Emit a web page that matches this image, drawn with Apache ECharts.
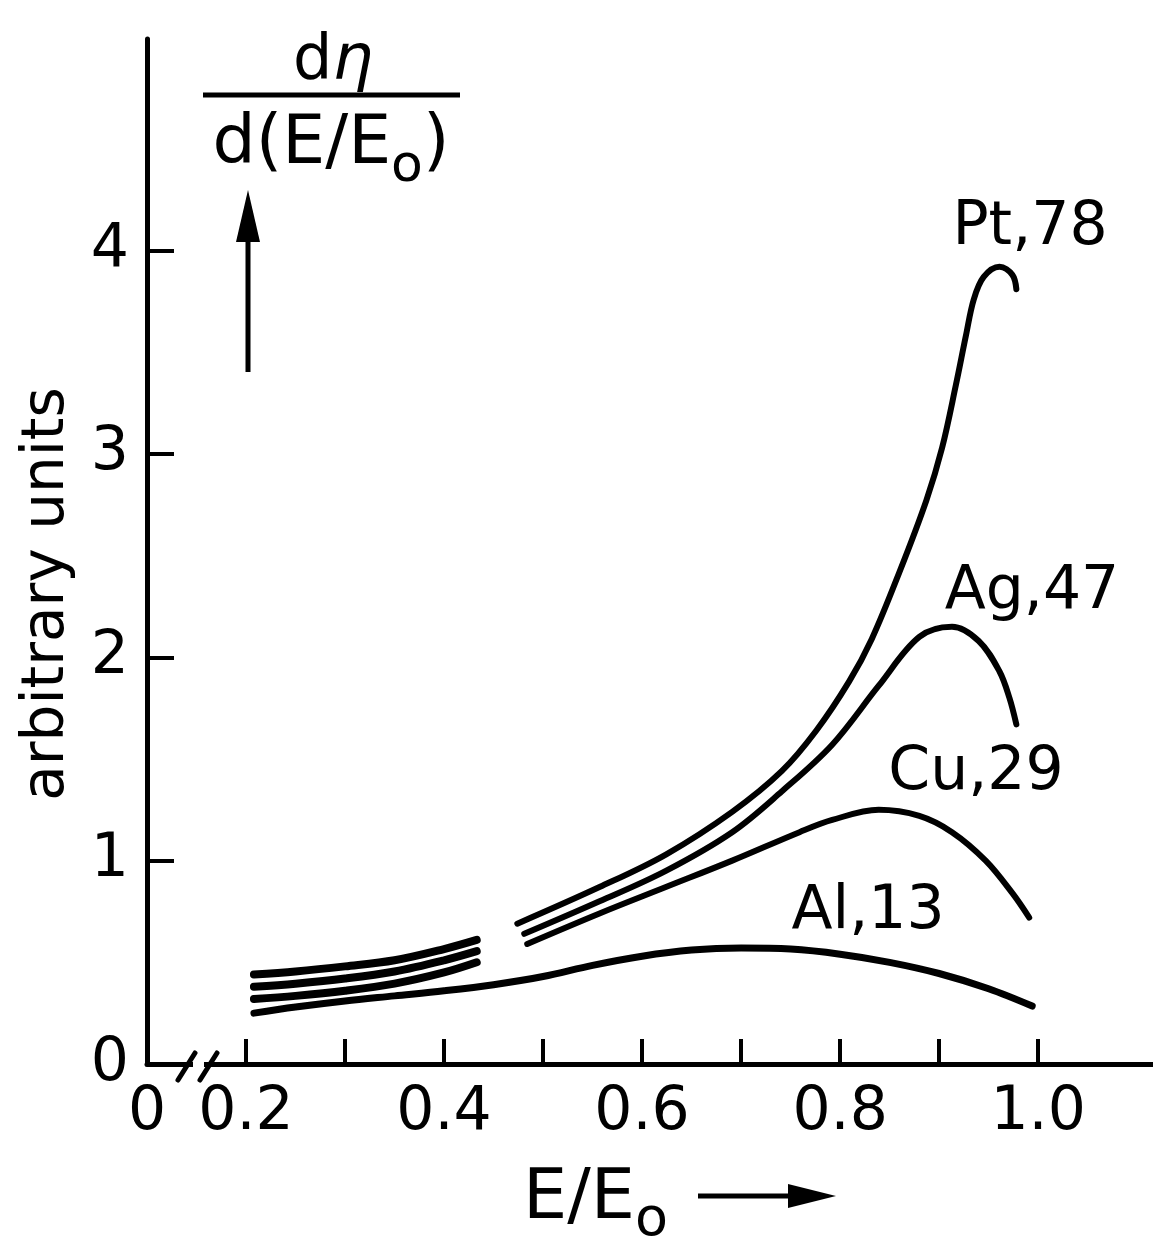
<!DOCTYPE html>
<html>
<head>
<meta charset="utf-8">
<script src="https://cdn.jsdelivr.net/npm/echarts@6/dist/echarts.min.js"></script>
<style>
  html, body { margin: 0; padding: 0; background: #fff; }
  #chart { width: 1153px; height: 1237px; }
</style>
</head>
<body>
<div id="chart"></div>
<script>
// tick values / labels
const xTickValues = [0.2, 0.3, 0.4, 0.5, 0.6, 0.7, 0.8, 0.9, 1.0];
const xLabelValues = [0.1, 0.2, 0.4, 0.6, 0.8, 1.0];
const xLabelTexts = ['0', '0.2', '0.4', '0.6', '0.8', '1.0'];
const yTickValues = [1, 2, 3, 4];
const yLabelValues = [0, 1, 2, 3, 4];
const yLabelTexts = ['0', '1', '2', '3', '4'];

// curves, [E/E0, d eta / d(E/E0)]
// low-energy pieces (before the gap)
const ptLow = [[0.208, 0.44], [0.25, 0.455], [0.30, 0.48], [0.35, 0.51], [0.40, 0.565], [0.433, 0.61]];
const agLow = [[0.208, 0.38], [0.25, 0.395], [0.30, 0.42], [0.35, 0.455], [0.40, 0.51], [0.433, 0.555]];
const cuLow = [[0.208, 0.32], [0.25, 0.335], [0.30, 0.36], [0.35, 0.395], [0.40, 0.45], [0.433, 0.50]];
// high-energy pieces
const ptHigh = [[0.474, 0.69], [0.557, 0.87], [0.624, 1.03], [0.691, 1.24], [0.741, 1.44], [0.776, 1.64],
  [0.809, 1.88], [0.832, 2.09], [0.860, 2.42], [0.887, 2.77], [0.903, 3.03], [0.917, 3.34],
  [0.927, 3.58], [0.935, 3.76], [0.945, 3.87], [0.961, 3.92], [0.974, 3.88], [0.978, 3.81]];
const agHigh = [[0.481, 0.64], [0.557, 0.80], [0.624, 0.95], [0.691, 1.14], [0.741, 1.34], [0.792, 1.57],
  [0.839, 1.86], [0.880, 2.10], [0.913, 2.15], [0.940, 2.08], [0.961, 1.93], [0.971, 1.80], [0.978, 1.67]];
const cuHigh = [[0.484, 0.59], [0.557, 0.74], [0.624, 0.87], [0.691, 1.00], [0.759, 1.14], [0.792, 1.20],
  [0.839, 1.25], [0.880, 1.22], [0.913, 1.14], [0.947, 1.00], [0.974, 0.84], [0.991, 0.72]];
const al = [[0.208, 0.25], [0.25, 0.28], [0.30, 0.31], [0.35, 0.335], [0.40, 0.36], [0.45, 0.39],
  [0.50, 0.43], [0.55, 0.485], [0.60, 0.53], [0.65, 0.56], [0.70, 0.57], [0.75, 0.565],
  [0.80, 0.54], [0.85, 0.50], [0.90, 0.445], [0.95, 0.37], [0.994, 0.285]];

const curveNames = ['Pt,78', 'Ag,47', 'Cu,29', 'Al,13'];

const FONT = "'DejaVu Sans', sans-serif";
const INK = '#000';

const chart = echarts.init(document.getElementById('chart'), null, { renderer: 'canvas' });

function curve(name, data, width) {
  return {
    name: name,
    type: 'line',
    data: data,
    smooth: 0.35,
    symbol: 'none',
    lineStyle: { color: INK, width: width, cap: 'round', join: 'round' },
    z: 3
  };
}

function pickLabel(value, values, texts) {
  for (let i = 0; i < values.length; i++) {
    if (Math.abs(values[i] - value) < 1e-6) return texts[i];
  }
  return '';
}

function label(text, x, y) {
  return {
    type: 'text', x: x, y: y,
    style: { text: text, align: 'center', verticalAlign: 'middle', fontFamily: FONT, fontSize: 60, fill: INK }
  };
}

const option = {
  backgroundColor: '#fff',
  animation: false,
  grid: { left: 147, right: 0, top: 39, bottom: 173 },
  xAxis: {
    type: 'value',
    min: 0.1,
    max: 1.116,
    interval: 0.1,
    splitLine: { show: false },
    axisLine: { lineStyle: { color: INK, width: 5 } },
    axisTick: {
      inside: true, length: 25, customValues: xTickValues,
      lineStyle: { color: INK, width: 4 }
    },
    axisLabel: {
      customValues: xLabelValues,
      formatter: v => pickLabel(v, xLabelValues, xLabelTexts),
      color: INK, fontFamily: FONT, fontSize: 60, margin: 19
    }
  },
  yAxis: {
    type: 'value',
    min: 0,
    max: 5.04,
    interval: 1,
    splitLine: { show: false },
    axisLine: { lineStyle: { color: INK, width: 5 } },
    axisTick: {
      inside: true, length: 27, customValues: yTickValues,
      lineStyle: { color: INK, width: 4 }
    },
    axisLabel: {
      customValues: yLabelValues,
      formatter: v => pickLabel(v, yLabelValues, yLabelTexts),
      color: INK, fontFamily: FONT, fontSize: 60, margin: 18
    }
  },
  series: [
    curve(curveNames[0], ptLow, 8),
    curve(curveNames[1], agLow, 8),
    curve(curveNames[2], cuLow, 8),
    curve(curveNames[0], ptHigh, 6),
    curve(curveNames[1], agHigh, 6),
    curve(curveNames[2], cuHigh, 6),
    curve(curveNames[3], al, 7)
  ],
  graphic: [
    // axis break marks
    { type: 'rect', shape: { x: 193, y: 1058, width: 11, height: 12 }, style: { fill: '#fff' }, z: 10 },
    { type: 'line', shape: { x1: 178, y1: 1080, x2: 195, y2: 1053 }, style: { stroke: INK, lineWidth: 5, lineCap: 'round' }, z: 11 },
    { type: 'line', shape: { x1: 200, y1: 1080, x2: 217, y2: 1053 }, style: { stroke: INK, lineWidth: 5, lineCap: 'round' }, z: 11 },
    // y title: fraction
    {
      type: 'text', x: 333, y: 62,
      style: {
        text: '{a|d}{g|η}', align: 'center', verticalAlign: 'middle',
        rich: {
          a: { fontFamily: FONT, fontSize: 62, fill: INK },
          g: { fontFamily: FONT, fontSize: 64, fontStyle: 'italic', fill: INK }
        }
      }
    },
    { type: 'line', shape: { x1: 203, y1: 95, x2: 460, y2: 95 }, style: { stroke: INK, lineWidth: 5 } },
    {
      type: 'text', x: 331, y: 145,
      style: {
        text: '{a|d(E/E}{s|o}{a|)}', align: 'center', verticalAlign: 'middle',
        rich: {
          a: { fontFamily: FONT, fontSize: 68, fill: INK, lineHeight: 96, verticalAlign: 'middle' },
          s: { fontFamily: FONT, fontSize: 52, fill: INK, lineHeight: 52, verticalAlign: 'bottom' }
        }
      }
    },
    { type: 'line', shape: { x1: 248, y1: 372, x2: 248, y2: 232 }, style: { stroke: INK, lineWidth: 5 } },
    { type: 'polygon', shape: { points: [[236, 242], [248, 190], [260, 242]] }, style: { fill: INK } },
    {
      type: 'text', x: 48, y: 594, rotation: Math.PI / 2,
      style: {
        text: 'arbitrary units', align: 'center', verticalAlign: 'middle',
        fontFamily: FONT, fontSize: 58, fill: INK
      }
    },
    // x title
    {
      type: 'text', x: 523, y: 1200,
      style: {
        text: '{a|E/E}{s|o}', align: 'left', verticalAlign: 'middle',
        rich: {
          a: { fontFamily: FONT, fontSize: 70, fill: INK, lineHeight: 96, verticalAlign: 'middle' },
          s: { fontFamily: FONT, fontSize: 54, fill: INK, lineHeight: 54, verticalAlign: 'bottom' }
        }
      }
    },
    { type: 'line', shape: { x1: 698, y1: 1196, x2: 800, y2: 1196 }, style: { stroke: INK, lineWidth: 5 } },
    { type: 'polygon', shape: { points: [[788, 1184], [836, 1196], [788, 1208]] }, style: { fill: INK } },
    // curve labels
    label(curveNames[0], 1030, 228),
    label(curveNames[1], 1032, 592),
    label(curveNames[2], 976, 773),
    label(curveNames[3], 868, 912)
  ]
};

chart.setOption(option);
</script>
</body>
</html>
